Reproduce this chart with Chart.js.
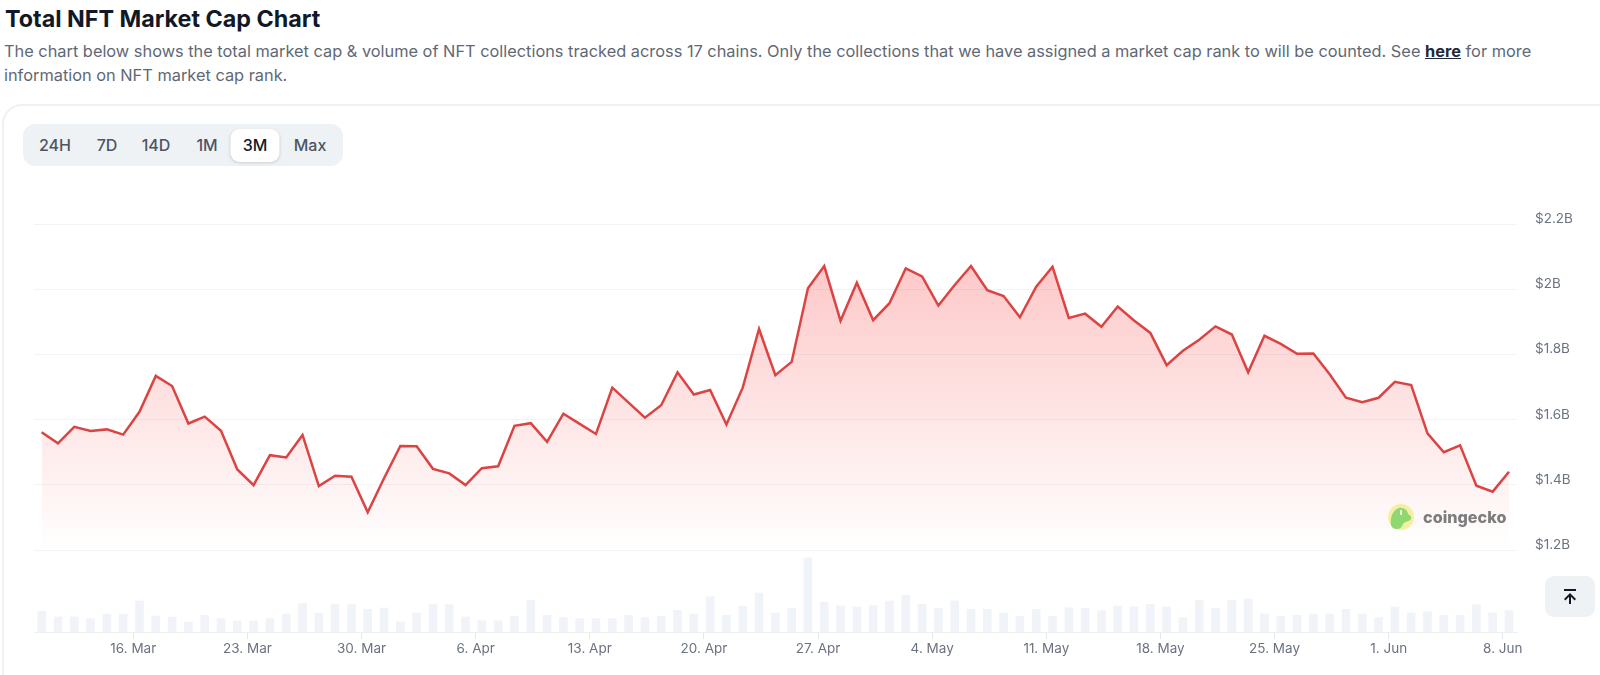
<!DOCTYPE html>
<html lang="en">
<head>
    <meta charset="UTF-8">
    <title>Total NFT Market Cap Chart</title>
    <style>
        html, body { margin: 0; padding: 0; background: #fff; }
        body { width: 1600px; height: 675px; overflow: hidden; position: relative; font-family: Inter, "Noto Sans", sans-serif; }
        h1 { position: absolute; left: 5px; top: 3px; margin: 0; font-size: 23.3px; line-height: 32px; font-weight: 700; color: #111827; white-space: nowrap; }
        p { position: absolute; left: 4px; top: 40px; width: 1580px; margin: 0; font-size: 16.35px; line-height: 23.5px; color: #5f6875; }
        p a { color: #1f2937; font-weight: 700; text-decoration: underline; }
        .card { position: absolute; left: 2px; top: 104px; width: 1700px; height: 700px; border: 2px solid #eff2f5; border-radius: 20px; box-sizing: border-box; }
        .ranges { position: absolute; left: 23px; top: 124px; width: 320px; height: 42px; background: #eff2f5; border-radius: 12px; }
        .ranges span { position: absolute; top: 0; line-height: 42px; font-size: 16px; font-weight: 500; color: #4b5563; transform: translateX(-50%); }
        .ranges .active { top: 5px; height: 33px; line-height: 33px; width: 49px; text-align: center; background: #fff; border-radius: 9px; color: #111827; box-shadow: 0 1px 3px rgba(0, 0, 0, .15); }
        canvas { position: absolute; left: 0; top: 0; }
        .mark { position: absolute; left: 1388px; top: 503px; width: 130px; height: 28px; }
        .mark span { position: absolute; left: 35px; top: 2px; font-size: 16.2px; line-height: 24px; font-weight: 800; color: #7d7d7d; }
        .top-btn { position: absolute; left: 1545px; top: 576px; width: 50px; height: 41px; background: #eff2f5; border-radius: 9px; }
    </style>
    <script src="https://cdn.jsdelivr.net/npm/chart.js"></script>
</head>
<body>
    <h1>Total NFT Market Cap Chart</h1>
    <p>The chart below shows the total market cap &amp; volume of NFT collections tracked across 17 chains. Only the collections that we have assigned a market cap rank to will be counted. See <a href="#">here</a> for more information on NFT market cap rank.</p>
    <div class="card"></div>
    <div class="ranges">
        <span style="left:32px">24H</span>
        <span style="left:84px">7D</span>
        <span style="left:133px">14D</span>
        <span style="left:184px">1M</span>
        <span class="active" style="left:232px">3M</span>
        <span style="left:287px">Max</span>
    </div>
    <canvas id="capChart" width="1600" height="675"></canvas>
    <div class="mark">
        <svg width="28" height="28" viewBox="0 0 28 28">
            <circle cx="13" cy="14" r="13" fill="#f5efa6"/>
            <path d="M3 22c-1-6 1-15 8-17 5-1 9 3 9 6 2 1 4 3 3 5-2 3-6 2-8 5-1 3-3 5-6 5s-5-1-6-4z" fill="#8fd86f"/>
            <rect x="12" y="7" width="2" height="5" rx="1" fill="#fff"/>
        </svg>
        <span>coingecko</span>
    </div>
    <div class="top-btn">
        <svg width="50" height="41" viewBox="0 0 50 41">
            <path d="M19 13h12v2H19zM25 17l6 6-1.4 1.4-3.6-3.6V28h-2v-7.2l-3.6 3.6L19 23z" fill="#111827"/>
        </svg>
    </div>

    <script>
        // Daily market cap in $B, oldest first
        const marketCap = [
            1.561, 1.527, 1.578, 1.565, 1.570, 1.554, 1.624, 1.734, 1.703, 1.588,
            1.609, 1.566, 1.447, 1.399, 1.491, 1.484, 1.553, 1.396, 1.428, 1.425,
            1.316, 1.420, 1.519, 1.518, 1.449, 1.435, 1.399, 1.451, 1.457, 1.581,
            1.589, 1.532, 1.618, 1.587, 1.556, 1.698, 1.652, 1.606, 1.644, 1.745,
            1.677, 1.691, 1.585, 1.698, 1.878, 1.736, 1.777, 2.003, 2.071, 1.903,
            2.020, 1.905, 1.957, 2.064, 2.039, 1.950, 2.013, 2.071, 1.997, 1.979,
            1.914, 2.008, 2.069, 1.912, 1.925, 1.885, 1.947, 1.904, 1.866, 1.767,
            1.811, 1.845, 1.886, 1.861, 1.745, 1.857, 1.832, 1.802, 1.803, 1.739,
            1.667, 1.653, 1.667, 1.716, 1.706, 1.558, 1.500, 1.521, 1.397, 1.379,
            1.440
        ];

        // Daily volume in $M
        const volume = [
            20.7, 15, 15, 13.3, 18, 18, 31, 16, 15, 10,
            16.7, 13.3, 11, 11, 13.3, 18, 28.3, 19, 27.3, 27.3,
            22.7, 24, 10, 19, 27.3, 27.3, 15, 11.3, 11.3, 15.7,
            31.7, 16.7, 14.3, 13.3, 13.3, 13.3, 16.7, 14.3, 15.7, 21.7,
            18, 35.3, 16.7, 25.7, 39, 19, 23.7, 74, 29.7, 26,
            25, 26.3, 31, 36.7, 27.7, 23.7, 31, 22.7, 22.7, 19,
            15.7, 22.7, 15.7, 24.3, 23.7, 21.3, 26, 25, 27.7, 25,
            14.3, 31.7, 23.7, 31.7, 33, 18, 15.7, 16.7, 18, 18,
            22.7, 18, 14.3, 25, 19, 20.3, 16.7, 16.7, 27.3, 19,
            21.3
        ];

        const dateLabels = ['16. Mar', '23. Mar', '30. Mar', '6. Apr', '13. Apr', '20. Apr', '27. Apr', '4. May', '11. May', '18. May', '25. May', '1. Jun', '8. Jun'];
        const capTicks = [1.2, 1.4, 1.6, 1.8, 2, 2.2];
        const capLabels = ['$1.2B', '$1.4B', '$1.6B', '$1.8B', '$2B', '$2.2B'];

        // first midnight tick sits part way between two daily samples
        const firstTick = 5.62;
        const tickColor = '#6b7280';
        const tickFont = { family: 'Inter', size: 13.5 };

        const capPoints = marketCap.map((v, i) => ({ x: i, y: v }));
        const volPoints = volume.map((v, i) => ({ x: i, y: v }));

        function fillGradient(context) {
            const chart = context.chart;
            if (!chart.chartArea) return 'transparent';
            const y = chart.scales.y;
            const g = chart.ctx.createLinearGradient(0, y.getPixelForValue(2.07), 0, y.getPixelForValue(1.2));
            g.addColorStop(0, 'rgba(250, 60, 60, 0.28)');
            g.addColorStop(1, 'rgba(250, 60, 60, 0)');
            return g;
        }

        new Chart(document.getElementById('capChart'), {
            type: 'bar',
            data: {
                datasets: [
                    {
                        type: 'line',
                        data: capPoints,
                        yAxisID: 'y',
                        borderColor: '#dc4343',
                        borderWidth: 2.5,
                        pointRadius: 0,
                        tension: 0,
                        fill: { value: 1.2 },
                        backgroundColor: fillGradient,
                        order: 1
                    },
                    {
                        type: 'bar',
                        data: volPoints,
                        yAxisID: 'vol',
                        backgroundColor: '#f0f3f8',
                        barThickness: 8,
                        order: 2
                    }
                ]
            },
            options: {
                responsive: false,
                animation: false,
                layout: { padding: { left: 34, top: 224, right: 0, bottom: 0 } },
                plugins: { legend: { display: false }, tooltip: { enabled: false } },
                scales: {
                    x: {
                        type: 'linear',
                        offset: false,
                        min: -0.47,
                        max: 90.49,
                        afterFit: scale => { scale.height = 43; },
                        afterBuildTicks: scale => {
                            scale.ticks = dateLabels.map((_, i) => ({ value: firstTick + 7 * i }));
                        },
                        grid: { offset: false, drawOnChartArea: false, color: '#e5e7eb', tickLength: 7 },
                        border: { color: '#eceff3' },
                        ticks: {
                            autoSkip: false,
                            maxRotation: 0,
                            color: tickColor,
                            font: tickFont,
                            padding: 2,
                            callback: (value, i) => dateLabels[i]
                        }
                    },
                    y: {
                        position: 'right',
                        min: 0.9485,
                        max: 2.2,
                        afterFit: scale => { scale.width = 83; },
                        afterBuildTicks: scale => {
                            scale.ticks = capTicks.map(v => ({ value: v }));
                        },
                        grid: { color: '#f1f3f5', drawTicks: false },
                        border: { display: false },
                        ticks: {
                            color: tickColor,
                            font: tickFont,
                            padding: 18,
                            labelOffset: -5,
                            callback: (value, i) => capLabels[i]
                        }
                    },
                    // volume shares the plot but has no visible axis
                    vol: { display: false, min: 0, max: 408 }
                }
            }
        });
    </script>
</body>
</html>
